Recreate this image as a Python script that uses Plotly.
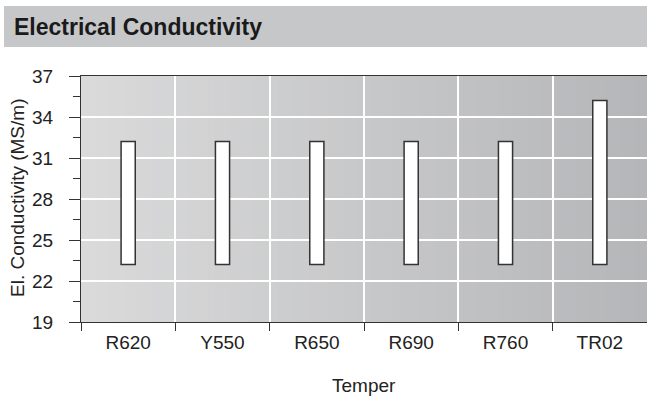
import plotly.graph_objects as go

categories = ["R620", "Y550", "R650", "R690", "R760", "TR02"]
cond_low = [23.2, 23.2, 23.2, 23.2, 23.2, 23.2]
cond_high = [32.2, 32.2, 32.2, 32.2, 32.2, 35.2]
y_ticks = [19, 22, 25, 28, 31, 34, 37]

W, H = 647, 403
L, R, T, B = 81, 0, 76, 81
pw, ph = W - L - R, H - T - B

def px_x(wx):
    return (wx - L) / pw

def px_y(wy):
    return (H - B - wy) / ph

fig = go.Figure()
fig.add_trace(go.Bar(
    x=categories,
    y=[h - l for h, l in zip(cond_high, cond_low)],
    base=cond_low,
    width=0.15,
    marker=dict(color="white", line=dict(color="#333333", width=1.5)),
    hoverinfo="skip",
))

shapes = []
# horizontal gradient background of plot area
n = 80
c0 = (218, 218, 219)
c1 = (181, 182, 184)
for i in range(n):
    t = i / (n - 1)
    c = tuple(round(a + (b - a) * t) for a, b in zip(c0, c1))
    shapes.append(dict(type="rect", xref="x domain", yref="y domain",
                       x0=i / n, x1=(i + 1) / n + 0.002, y0=0, y1=1,
                       fillcolor="rgb(%d,%d,%d)" % c, line=dict(width=0),
                       layer="below"))
# title band
shapes.append(dict(type="rect", xref="paper", yref="paper",
                   x0=px_x(4), x1=1.0, y0=px_y(47), y1=px_y(6),
                   fillcolor="#c6c7c9", line=dict(width=0), layer="below"))

annotations = [
    dict(text="<b>Electrical Conductivity</b>", xref="paper", yref="paper",
         x=px_x(12), y=px_y(27), xanchor="left", yanchor="middle",
         showarrow=False, font=dict(size=23, color="#1a1a1a")),
    dict(text="El. Conductivity (MS/m)", xref="paper", yref="paper",
         x=px_x(17), y=px_y(198), xanchor="center", yanchor="middle",
         textangle=-90, showarrow=False, font=dict(size=19, color="#222222")),
    dict(text="Temper", xref="paper", yref="paper",
         x=px_x(364), y=px_y(385), xanchor="center", yanchor="middle",
         showarrow=False, font=dict(size=19, color="#222222")),
]

fig.update_layout(
    width=W, height=H,
    margin=dict(l=L, r=R, t=T, b=B, pad=0),
    paper_bgcolor="white",
    plot_bgcolor="rgba(0,0,0,0)",
    showlegend=False,
    font=dict(family="Liberation Sans, Arial, sans-serif", size=19, color="#222222"),
    shapes=shapes,
    annotations=annotations,
    xaxis=dict(
        type="category", categoryorder="array", categoryarray=categories,
        tickson="boundaries", ticks="outside", ticklen=8, tickwidth=1.2,
        tickcolor="#333333", showline=True, linecolor="#333333", linewidth=1.3,
        mirror=True, showgrid=True, gridcolor="white", gridwidth=1.5,
        tickfont=dict(size=19), ticklabelstandoff=3,
        range=[-0.5, 5.5], fixedrange=True,
    ),
    yaxis=dict(
        range=[19, 37], tickvals=y_ticks, ticks="outside", ticklen=11,
        tickwidth=1.2, tickcolor="#333333", showline=True, linecolor="#333333",
        linewidth=1.3, showgrid=True, gridcolor="white", gridwidth=1.5,
        zeroline=False, tickfont=dict(size=19), ticklabelstandoff=12,
        minor=dict(dtick=1.5, tick0=19, ticks="outside", ticklen=7,
                   tickcolor="#333333", tickwidth=1.2, showgrid=False),
        fixedrange=True,
    ),
)

# remove the default page margin and scrollbars so the figure fills the window
fig.write_html(
    "out.html",
    config={"displayModeBar": False},
    post_script="document.body.style.margin='0';"
                "document.documentElement.style.overflow='hidden';"
                "document.body.style.overflow='hidden';",
)
